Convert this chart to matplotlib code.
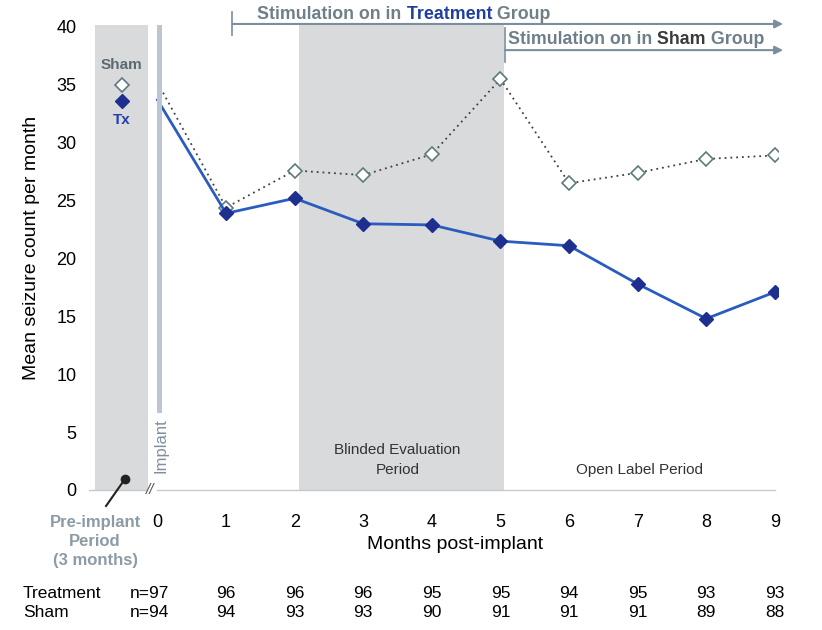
import matplotlib
matplotlib.use('Agg')
import matplotlib.pyplot as plt

plt.rcParams['font.family'] = ['Liberation Sans', 'DejaVu Sans']

# ---- data ----
months = [0, 1, 2, 3, 4, 5, 6, 7, 8, 9]
tx_mean = [33.7, 23.9, 25.2, 23.0, 22.9, 21.5, 21.1, 17.8, 14.8, 17.1]
sham_mean = [35.2, 24.4, 27.6, 27.2, 29.0, 35.5, 26.5, 27.4, 28.6, 28.9]
baseline_x = -0.52
tx_baseline = 33.6
sham_baseline = 35.0
tx_n = ['n=97', '96', '96', '96', '95', '95', '94', '95', '93', '93']
sham_n = ['n=94', '94', '93', '93', '90', '91', '91', '91', '89', '88']
yticks = [0, 5, 10, 15, 20, 25, 30, 35, 40]
xtick_labels = ['0', '1', '2', '3', '4', '5', '6', '7', '8', '9']

# ---- styling ----
TX_LINE = '#2a5cc0'
TX_MARK = '#1f2f8f'
SHAM_EDGE = '#5f7a7c'
SHADE = '#d9dadc'
GRAYBLUE = '#7f8fa0'
ARROW = '#7a8e9c'
TXT_GRAY = '#6e7f89'

fig = plt.figure(figsize=(8.22, 6.3), dpi=100)
ax = fig.add_axes([88.9 / 822, 1 - 490 / 630, 689.4 / 822, 466.5 / 630])
ax.set_xlim(-1.0, 9.05)
ax.set_ylim(0, 40.3)
for s in ax.spines.values():
    s.set_visible(False)

# shaded periods
ax.axvspan(-0.91, -0.14, ymin=0, ymax=0.997, color=SHADE, lw=0, zorder=0)
ax.axvspan(2.07, 5.05, ymin=0, ymax=0.997, color=SHADE, lw=0, zorder=0)
# implant bar
ax.axvspan(-0.007, 0.066, ymin=0.165, ymax=0.997, color='#bcc6d0', lw=0, zorder=5)

# baseline axis line with break
ax.plot([-1.0, -0.17], [0, 0], color='#c8c8c8', lw=1, zorder=1, clip_on=False)
ax.plot([0.0, 9.0], [0, 0], color='#c8c8c8', lw=1, zorder=1, clip_on=False)
ax.text(-0.11, 0, '//', ha='center', va='center', fontsize=11, color='#555555',
        style='italic')

# series
ax.plot(months, sham_mean, ls=(0, (1, 2.2)), color='#404040', lw=1.3, marker='D',
        markersize=7, markerfacecolor='white', markeredgecolor=SHAM_EDGE,
        markeredgewidth=1.2, markevery=list(range(1, 10)), zorder=3)
ax.plot(months, tx_mean, ls='-', color=TX_LINE, lw=2, marker='D',
        markersize=7, markerfacecolor=TX_MARK, markeredgecolor=TX_MARK,
        markevery=list(range(1, 10)), zorder=4)

# baseline markers + labels
ax.plot([baseline_x], [sham_baseline], marker='D', markersize=7,
        markerfacecolor='white', markeredgecolor=SHAM_EDGE, markeredgewidth=1.2, zorder=4)
ax.plot([baseline_x], [tx_baseline], marker='D', markersize=7,
        markerfacecolor=TX_MARK, markeredgecolor=TX_MARK, zorder=4)
ax.text(baseline_x, 36.7, 'Sham', ha='center', va='center', fontsize=11,
        fontweight='bold', color='#5a6a70')
ax.text(baseline_x, 32.0, 'Tx', ha='center', va='center', fontsize=11,
        fontweight='bold', color='#2040b0')

# ticks
ax.set_yticks(yticks)
ax.set_yticklabels([str(v) for v in yticks], fontsize=13)
ax.set_xticks(months)
ax.set_xticklabels(xtick_labels, fontsize=13)
ax.tick_params(axis='y', length=0, pad=9)
ax.tick_params(axis='x', length=0, pad=17)

fig.text(32 / 822, 1 - 248 / 630, 'Mean seizure count per month', rotation=90,
         ha='center', va='center', fontsize=14)
ax.text(4.34, -4.75, 'Months post-implant', ha='center', va='center', fontsize=14,
        clip_on=False)

# period labels
ax.text(0.05, 3.8, 'Implant', rotation=90, ha='center', va='center', fontsize=12,
        color=GRAYBLUE)
ax.text(3.5, 2.6, 'Blinded Evaluation\nPeriod', ha='center', va='center',
        fontsize=11, color='#333333', linespacing=1.5)
ax.text(7.03, 1.75, 'Open Label Period', ha='center', va='center',
        fontsize=11, color='#333333')

# pre-implant pointer + label
ax.plot([-0.75, -0.474], [-1.38, 0.95], color='#222222', lw=1.5, clip_on=False, zorder=6)
ax.plot([-0.474], [0.95], marker='o', markersize=6, color='#222222', clip_on=False, zorder=6)
ax.text(-0.91, -4.45, 'Pre-implant\nPeriod\n(3 months)', ha='center', va='center',
        fontsize=12, fontweight='bold', color='#8c9ba5', linespacing=1.3,
        clip_on=False)

# n table
row_y = [-8.98, -10.6]
ax.text(-1.96, row_y[0], 'Treatment', ha='left', va='center', fontsize=12.5, clip_on=False)
ax.text(-1.96, row_y[1], 'Sham', ha='left', va='center', fontsize=12.5, clip_on=False)
for i, m in enumerate(months):
    xx = -0.11 if i == 0 else m
    ax.text(xx, row_y[0], tx_n[i], ha='center', va='center', fontsize=12.5, clip_on=False)
    ax.text(xx, row_y[1], sham_n[i], ha='center', va='center', fontsize=12.5, clip_on=False)

# stimulation arrows
ax.annotate('', xy=(9.12, 40.26), xytext=(1.09, 40.26), annotation_clip=False,
            arrowprops=dict(arrowstyle='-|>', color=ARROW, lw=1.5, mutation_scale=12,
                            shrinkA=0, shrinkB=0))
ax.plot([1.09, 1.09], [39.3, 41.3], color=ARROW, lw=1.2, clip_on=False)
ax.annotate('', xy=(9.12, 38.0), xytext=(5.07, 38.0), annotation_clip=False,
            arrowprops=dict(arrowstyle='-|>', color=ARROW, lw=1.5, mutation_scale=12,
                            shrinkA=0, shrinkB=0))
ax.plot([5.07, 5.07], [37.0, 39.9], color=ARROW, lw=1.2, clip_on=False)


def multicolor(x, y, parts, **kw):
    t = ax.text(x, y, parts[0][0], color=parts[0][1], va='center', ha='left',
                clip_on=False, **kw)
    for s, c in parts[1:]:
        t = ax.annotate(s, xy=(1, 0), xycoords=t, va='bottom', ha='left',
                        color=c, annotation_clip=False, **kw)


multicolor(1.455, 41.1, [('Stimulation on in', TXT_GRAY), (' Treatment', '#1f3f9f'),
                          (' Group', TXT_GRAY)], fontsize=12.8, fontweight='bold')
multicolor(5.11, 38.96, [('Stimulation on in', TXT_GRAY), (' Sham', '#3a3a3a'),
                          (' Group', TXT_GRAY)], fontsize=12.8, fontweight='bold')

fig.savefig('out.png', dpi=100)
